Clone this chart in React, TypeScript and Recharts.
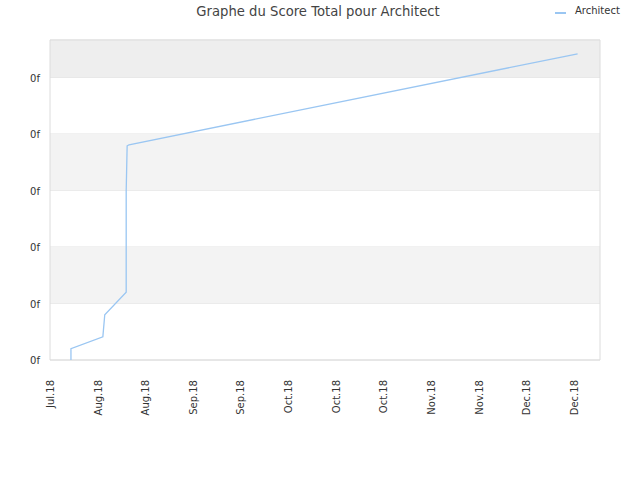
import React from 'react';
import { LineChart, Line, XAxis, YAxis, CartesianGrid, ReferenceArea } from 'recharts';

const xTickLabels = ['Jul.18', 'Aug.18', 'Aug.18', 'Sep.18', 'Sep.18', 'Oct.18', 'Oct.18', 'Oct.18', 'Nov.18', 'Nov.18', 'Dec.18', 'Dec.18'];
const xTicks = [0, 1, 2, 3, 4, 5, 6, 7, 8, 9, 10, 11];
const yTicks = [0, 1, 2, 3, 4, 5];
const seriesX = [0.44, 0.44, 1.11, 1.15, 1.6, 1.6, 1.62, 1.66, 11.08];
const seriesY = [0, 0.2, 0.41, 0.8, 1.2, 2.99, 3.79, 3.81, 5.42];

const data = seriesX.map((x, i) => ({ x, score: seriesY[i] }));

const XTick = (props: any) => {
  const { x, y, payload } = props;
  return (
    <g transform={`translate(${x},${y})`}>
      <text
        transform="rotate(-90)"
        x={-12}
        y={0}
        dy={4}
        textAnchor="end"
        fontSize={10}
        fill="#333"
        fontFamily="DejaVu Sans"
      >
        {xTickLabels[payload.value]}
      </text>
    </g>
  );
};

const YTick = (props: any) => {
  const { x, y } = props;
  return (
    <text x={x - 2} y={y} dy={4} textAnchor="end" fontSize={10} fill="#333" fontFamily="DejaVu Sans">
      0f
    </text>
  );
};

export default function App() {
  return (
    <div style={{ position: 'absolute', left: 0, top: 0, width: 640, height: 480, background: '#fff', fontFamily: 'DejaVu Sans' }}>
      <div style={{ position: 'absolute', left: 0, top: 4, width: 636, textAlign: 'center', fontSize: 13.2, color: '#444' }}>
        Graphe du Score Total pour Architect
      </div>
      <div style={{ position: 'absolute', left: 555, top: 12, width: 11, height: 1.5, background: '#9ac6f2' }} />
      <div style={{ position: 'absolute', left: 575, top: 5, fontSize: 10, color: '#333' }}>Architect</div>
      <LineChart width={640} height={480} data={data} margin={{ top: 40, right: 40, left: 0, bottom: 0 }}>
        <ReferenceArea y1={1} y2={2} fill="#f3f3f3" fillOpacity={1} stroke="none" ifOverflow="hidden" />
        <ReferenceArea y1={3} y2={4} fill="#f3f3f3" fillOpacity={1} stroke="none" ifOverflow="hidden" />
        <ReferenceArea y1={5} y2={5.664} fill="#eeeeee" fillOpacity={1} stroke="none" ifOverflow="hidden" />
        <CartesianGrid vertical={false} stroke="#e2e2e2" />
        <ReferenceArea x1={0} x2={11.55} y1={0} y2={5.664} fill="none" stroke="#dcdcdc" strokeWidth={1} />
        <XAxis
          type="number"
          dataKey="x"
          domain={[0, 11.55]}
          ticks={xTicks}
          interval={0}
          height={120}
          axisLine={false}
          tickLine={false}
          tick={<XTick />}
        />
        <YAxis
          type="number"
          domain={[0, 5.664]}
          ticks={yTicks}
          width={50}
          axisLine={false}
          tickLine={false}
          tick={<YTick />}
        />
        <Line
          type="linear"
          dataKey="score"
          stroke="#9ac6f2"
          strokeWidth={1.3}
          dot={false}
          isAnimationActive={false}
        />
      </LineChart>
    </div>
  );
}
